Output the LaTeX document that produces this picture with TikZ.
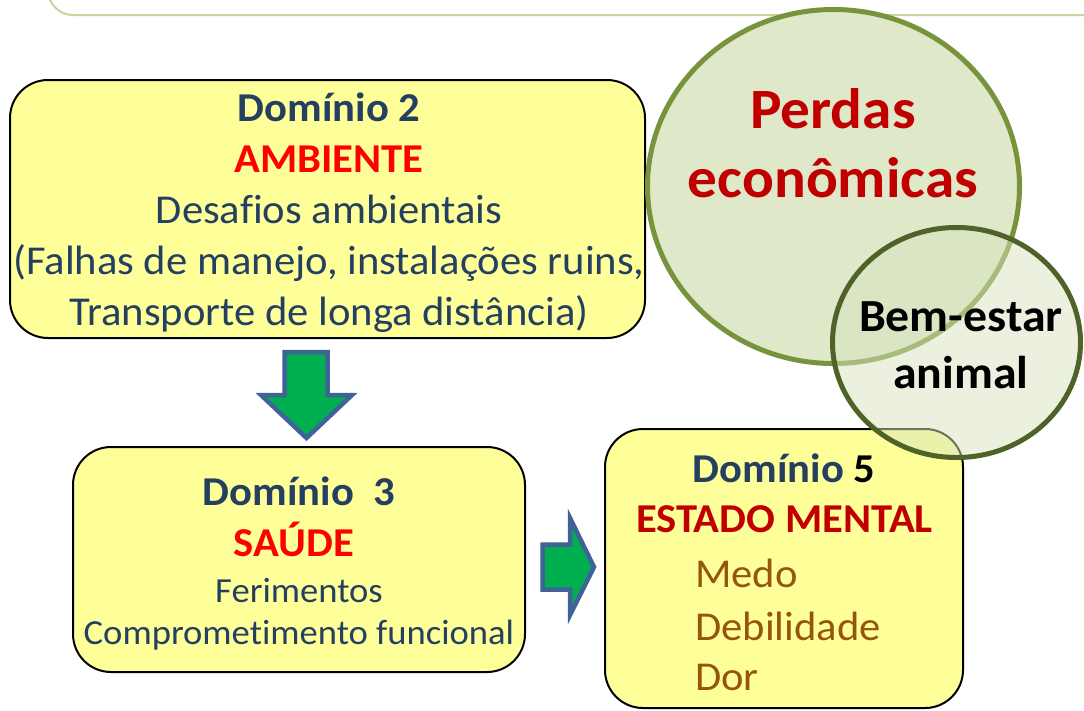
\documentclass[tikz,border=0pt]{standalone}
\usepackage{fontspec}
\setmainfont{Carlito}[Ligatures=CommonOff, FakeStretch=1.04]
\usetikzlibrary{shapes.geometric}
\definecolor{navy}{HTML}{243F60}
\definecolor{boxyellow}{HTML}{FFFF99}
\definecolor{darkred}{HTML}{C00000}
\definecolor{brownish}{HTML}{95560C}
\definecolor{arrowgreen}{HTML}{00B050}
\definecolor{arrowblue}{HTML}{3F6397}
\definecolor{bigfill}{HTML}{DFE9CA}
\definecolor{bigline}{HTML}{77933C}
\definecolor{smallfill}{HTML}{D7E4BD}
\definecolor{smallline}{HTML}{4F6228}
\definecolor{frameline}{HTML}{C3D69B}
\tikzset{
  domainbox/.style={draw=black, line width=2pt, fill=boxyellow, rounded corners=38pt, inner sep=0pt},
  txt/.style={anchor=base, inner sep=0pt, font=\fontsize{41}{49}\selectfont},
  hd/.style={anchor=base, inner sep=0pt, font=\fontsize{41}{49}\selectfont\bfseries},
  smalltxt/.style={anchor=base, inner sep=0pt, font=\fontsize{35.2}{44}\selectfont},
  blockarrow/.style={draw=arrowblue, fill=arrowgreen, line width=4.5pt, line join=miter},
}
\begin{document}
\begin{tikzpicture}[x=1pt,y=-1pt]
\useasboundingbox (0,0) rectangle (1084,710);
% faint frame at the top
\draw[frameline, line width=2pt, rounded corners=25pt] (48,-80) rectangle (1140,15);

% Domain 2 box
\node[domainbox, minimum width=635pt, minimum height=258pt] (box2) at (327.5,209) {};
\node[hd, text=navy] (d2a) at (329,121) {Domínio 2};
\node[hd, text=red] (d2b) at (329,172) {AMBIENTE};
\node[txt, text=navy] (d2c) at (329,223) {Desafios ambientais};
\node[txt, text=navy] (d2d) at (329,274) {(Falhas de manejo, instalações ruins,};
\node[txt, text=navy] (d2e) at (329,325) {Transporte de longa distância)};

% Domain 3 box
\node[domainbox, minimum width=452pt, minimum height=225pt] (box3) at (299,559.5) {};
\node[hd, text=navy] (d3a) at (299,505) {Domínio\ \ 3};
\node[hd, text=red] (d3b) at (294,556) {SAÚDE};
\node[smalltxt, text=navy] (d3c) at (299,602) {Ferimentos};
\node[smalltxt, text=navy] (d3d) at (299,644) {Comprometimento funcional};

% Domain 5 box
\node[domainbox, minimum width=358pt, minimum height=279pt] (box5) at (784,568.5) {};
\node[hd, text=navy] (d5a) at (784,482) {Domínio \textcolor{black}{5}};
\node[hd, text=darkred] (d5b) at (784.5,532) {ESTADO MENTAL};
\node[txt, text=brownish, anchor=base west] (d5c) at (695,587) {Medo};
\node[txt, text=brownish, anchor=base west] (d5d) at (695,640) {Debilidade};
\node[txt, text=brownish, anchor=base west] (d5e) at (695,690) {Dor};

% block arrows
\draw[blockarrow] (284.5,352) -- (327.5,352) -- (327.5,395) -- (352,395) -- (306.5,438) -- (261,395) -- (284.5,395) -- cycle;
\draw[blockarrow] (542.5,544.5) -- (570,544.5) -- (570,518) -- (594,567) -- (570,615) -- (570,589.5) -- (542.5,589.5) -- cycle;

% circles
\node[ellipse, draw=bigline, fill=bigfill, line width=5pt, minimum width=372pt, minimum height=354pt, inner sep=0pt] (perdas) at (833.5,186.5) {};
\node[ellipse, draw=smallline, fill=smallfill, fill opacity=0.5, line width=5pt, minimum width=248pt, minimum height=230pt, inner sep=0pt] (bem) at (956.5,342.5) {};
\node[anchor=base, inner sep=0pt, font=\fontsize{57}{69}\selectfont\bfseries, text=darkred] (pa) at (833,128) {Perdas};
\node[anchor=base, inner sep=0pt, font=\fontsize{57}{69}\selectfont\bfseries, text=darkred] (pb) at (833,197) {econômicas};
\node[anchor=base, inner sep=0pt, font=\fontsize{46}{55}\selectfont\bfseries, text=black] (ba) at (961,331) {Bem-estar};
\node[anchor=base, inner sep=0pt, font=\fontsize{46}{55}\selectfont\bfseries, text=black] (bb) at (961,388) {animal};
\end{tikzpicture}
\end{document}
